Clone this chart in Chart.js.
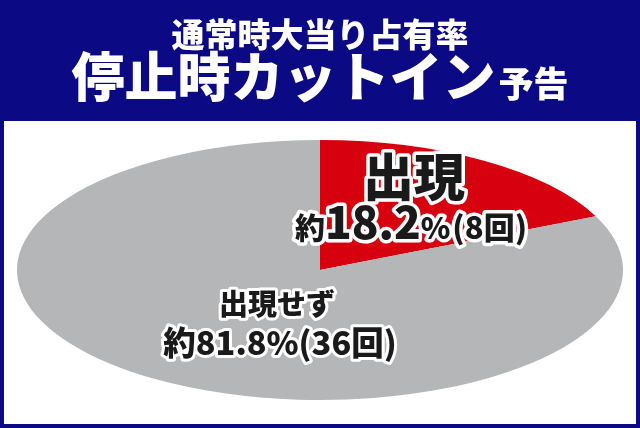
<!DOCTYPE html>
<html lang="ja">
<head>
<meta charset="utf-8">
<script src="https://cdn.jsdelivr.net/npm/chart.js@4/dist/chart.umd.min.js"></script>
<style>
  html, body { margin: 0; padding: 0; background: #0b0a84; }
  #wrap { width: 640px; height: 428px; }
  canvas { display: block; }
</style>
</head>
<body>
<div id="wrap"><canvas id="c" width="640" height="428"></canvas></div>
<script>
// ---- data ----
const categories = ['出現', '出現せず'];
const shares = [18.2, 81.8];
const counts = [8, 36];
const titleLine1 = '通常時大当り占有率';
const titleLine2Main = '停止時カットイン';
const titleLine2Small = '予告';

const NAVY = '#0b0a84';
const RED = '#d7000f';
const GRAY = '#b5b6b8';
const FONT = '"Noto Sans CJK JP", "Noto Sans", sans-serif';

const RX = 303, RY = 130;

const framePlugin = {
  id: 'frame',
  beforeDraw(chart) {
    const ctx = chart.ctx;
    ctx.save();
    ctx.fillStyle = NAVY;
    ctx.fillRect(0, 0, chart.width, chart.height);
    ctx.fillStyle = '#ffffff';
    ctx.fillRect(4, 121, 632, 303);
    // header text
    ctx.fillStyle = '#ffffff';
    ctx.textAlign = 'center';
    ctx.textBaseline = 'middle';
    ctx.font = `900 33px ${FONT}`;
    ctx.fillText(titleLine1, 320, 34);
    ctx.textBaseline = 'alphabetic';
    ctx.font = `900 53px ${FONT}`;
    const w1 = ctx.measureText(titleLine2Main).width;
    ctx.font = `900 35px ${FONT}`;
    const w2 = ctx.measureText(titleLine2Small).width;
    const gap = 3;
    let x0 = 320 - (w1 + gap + w2) / 2;
    ctx.textAlign = 'left';
    ctx.font = `900 53px ${FONT}`;
    ctx.fillText(titleLine2Main, x0, 97);
    ctx.font = `900 35px ${FONT}`;
    ctx.fillText(titleLine2Small, x0 + w1 + gap, 97);
    ctx.restore();
  }
};

const ellipsePlugin = {
  id: 'ellipse',
  beforeDatasetsDraw(chart) {
    const arc = chart.getDatasetMeta(0).data[0];
    const cx = arc.x, cy = arc.y;
    const ctx = chart.ctx;
    ctx.save();
    ctx.translate(cx, cy);
    ctx.scale(1, RY / RX);
    ctx.translate(-cx, -cy);
  },
  afterDatasetsDraw(chart) {
    chart.ctx.restore();
  }
};

function outlined(ctx, text, x, y, lw) {
  ctx.lineJoin = 'round';
  ctx.miterLimit = 2;
  ctx.lineWidth = lw;
  ctx.strokeStyle = '#ffffff';
  ctx.strokeText(text, x, y);
  ctx.fillStyle = '#1a1a1a';
  ctx.fillText(text, x, y);
}

function drawSegments(ctx, segs, cx, baseline, lw) {
  let total = 0;
  segs.forEach(s => { ctx.font = `900 ${s.size}px ${FONT}`; s.w = ctx.measureText(s.t).width + (s.pad || 0); total += s.w; });
  let x = cx - total / 2;
  ctx.textAlign = 'left';
  ctx.textBaseline = 'alphabetic';
  segs.forEach(s => {
    ctx.font = `900 ${s.size}px ${FONT}`;
    outlined(ctx, s.t, x, baseline, lw);
    x += s.w;
  });
}

const labelPlugin = {
  id: 'labels',
  afterDraw(chart) {
    const ctx = chart.ctx;
    ctx.save();
    // red slice label
    ctx.textAlign = 'center';
    ctx.textBaseline = 'middle';
    ctx.font = `900 51px ${FONT}`;
    outlined(ctx, categories[0], 414, 177, 7);
    drawSegments(ctx, [
      { t: '約', size: 30 },
      { t: shares[0].toFixed(1), size: 44 },
      { t: '%', size: 30, pad: 2 },
      { t: '(' + counts[0] + '回)', size: 31 }
    ], 411, 239, 7);
    // gray slice label
    ctx.textAlign = 'center';
    ctx.textBaseline = 'middle';
    ctx.font = `900 29px ${FONT}`;
    outlined(ctx, categories[1], 277, 304, 6);
    drawSegments(ctx, [
      { t: '約' + shares[1].toFixed(1) + '%(' + counts[1] + '回)', size: 32.5 }
    ], 280, 355, 6);
    ctx.restore();
  }
};

new Chart(document.getElementById('c'), {
  type: 'pie',
  data: {
    labels: categories,
    datasets: [{
      data: shares,
      backgroundColor: [RED, GRAY],
      borderWidth: 0
    }]
  },
  options: {
    responsive: false,
    animation: false,
    events: [],
    radius: RX,
    layout: { padding: { top: 120, bottom: 8, left: 0, right: 0 } },
    plugins: {
      legend: { display: false },
      tooltip: { enabled: false },
      title: { display: false }
    }
  },
  plugins: [framePlugin, ellipsePlugin, labelPlugin]
});
</script>
</body>
</html>
